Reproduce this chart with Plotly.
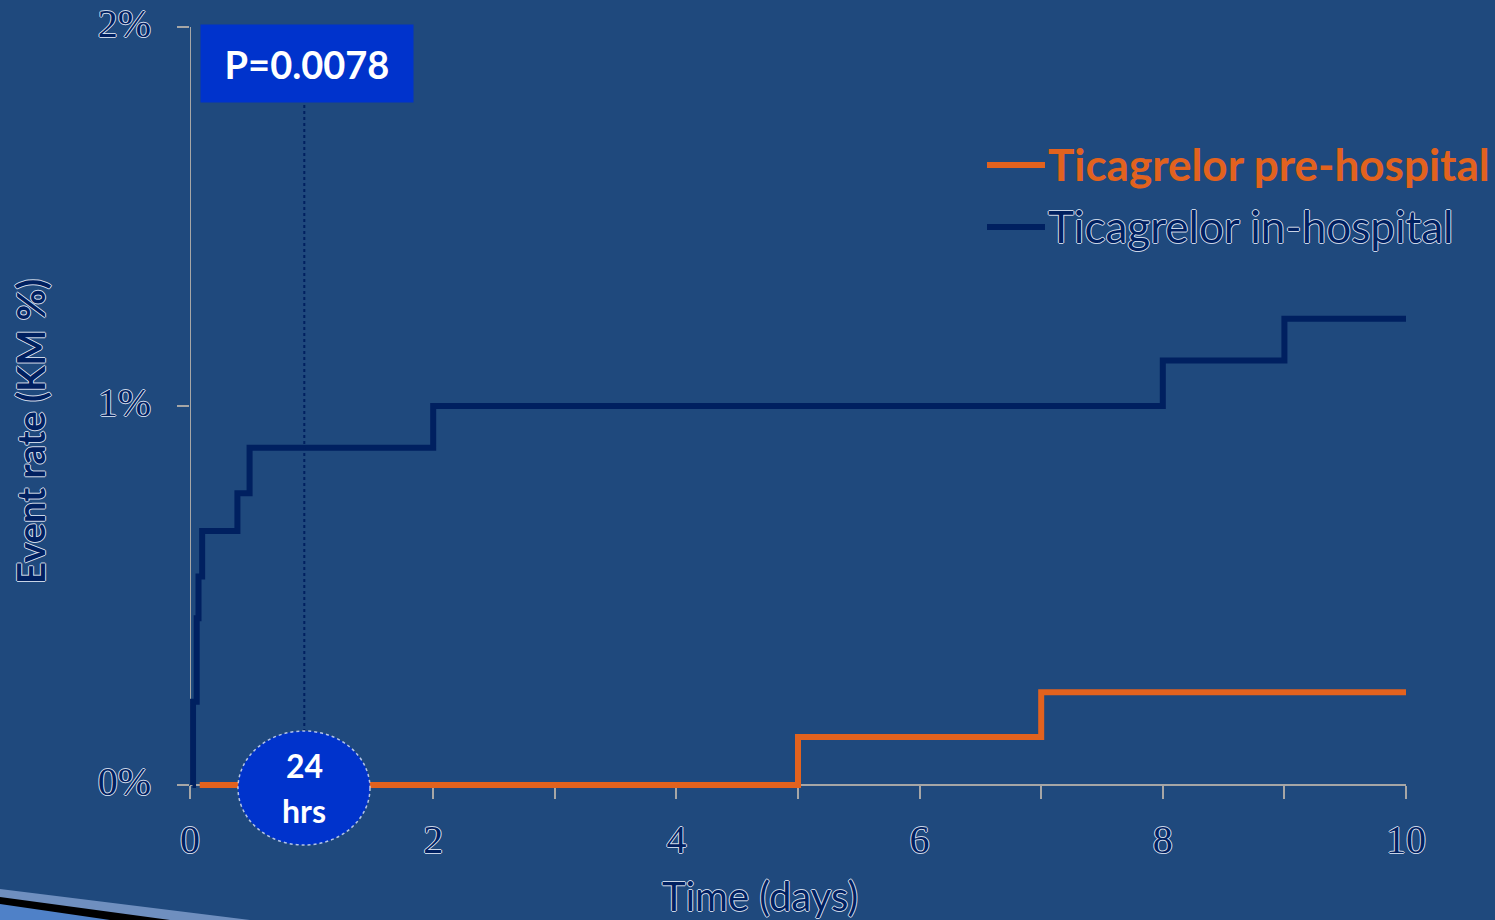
import plotly.graph_objects as go

# Kaplan-Meier event rates (%), step functions over days 0-10
days_in_hospital = [0.02, 0.025, 0.055, 0.07, 0.10, 0.39, 0.49, 2.0, 8.0, 9.0, 10.0]
rate_in_hospital = [0.0, 0.22, 0.44, 0.55, 0.67, 0.77, 0.89, 1.0, 1.12, 1.23, 1.23]

days_pre_hospital = [0.08, 5.0, 7.0, 10.0]
rate_pre_hospital = [0.0, 0.127, 0.245, 0.245]

x_tick_vals = list(range(0, 11))
x_tick_text = ["0", "", "2", "", "4", "", "6", "", "8", "", "10"]
y_tick_vals = [0, 1, 2]
y_tick_text = ["0%", "1%", "2%"]

legend_pre = "Ticagrelor pre-hospital"
legend_in = "Ticagrelor in-hospital"
p_value_text = "P=0.0078"
window_label = ["24", "hrs"]
window_day = 0.94

BG = "#1F497D"
NAVY = "#002060"
ORANGE = "#E2621E"
BRIGHT = "#0033CC"
AXIS = "#A6A6A6"
HALO = "rgba(225,232,245,0.9)"
OUTLINE = ("-1px 0 0 %s, 1px 0 0 %s, 0 -1px 0 %s, 0 1px 0 %s" % (HALO, HALO, HALO, HALO))

W, H = 1495, 920
L, R, T, B = 190, 89, 27, 116
plot_w, plot_h = W - L - R, H - T - B


def paper(px, py):
    return (px - L) / plot_w, (H - B - py) / plot_h


def outlined(size, family="Lato", weight="normal"):
    return dict(family=family, size=size, color=NAVY, shadow=OUTLINE, weight=weight)


fig = go.Figure()

fig.add_trace(go.Scatter(
    x=days_in_hospital, y=rate_in_hospital, mode="lines", name=legend_in,
    line=dict(color=NAVY, width=6, shape="hv"), showlegend=False,
))
fig.add_trace(go.Scatter(
    x=days_pre_hospital, y=rate_pre_hospital, mode="lines", name=legend_pre,
    line=dict(color=ORANGE, width=6, shape="hv"), showlegend=False,
))

shapes = []
annotations = []

# y axis line from 0% to 2%
shapes.append(dict(type="line", xref="x", yref="y", x0=0, x1=0, y0=0, y1=2,
                   line=dict(color=AXIS, width=2), layer="below"))

# dotted 24 h marker
shapes.append(dict(type="line", xref="x", yref="y", x0=window_day, x1=window_day,
                   y0=0.14, y1=1.80, line=dict(color=NAVY, width=2, dash="dot")))

# 24 hrs bubble (paper-referenced so it may overhang the plot area)
cx0, cy0 = paper(238, 845)
cx1, cy1 = paper(370, 731)
shapes.append(dict(type="circle", xref="paper", yref="paper", x0=cx0, x1=cx1, y0=cy0, y1=cy1,
                   fillcolor=BRIGHT, line=dict(color="rgba(220,230,250,0.8)", width=1.5, dash="dot"),
                   layer="above"))

lx, ly = paper(304, 765)
annotations.append(dict(xref="paper", yref="paper", x=lx, y=ly, xanchor="center", yanchor="middle",
                        text="<b>%s</b>" % window_label[0], showarrow=False,
                        font=dict(family="Lato", size=32, color="white")))
lx, ly = paper(304, 810)
annotations.append(dict(xref="paper", yref="paper", x=lx, y=ly, xanchor="center", yanchor="middle",
                        text="<b>%s</b>" % window_label[1], showarrow=False,
                        font=dict(family="Lato", size=32, color="white")))

# p-value box
bx, by = paper(307, 63)
annotations.append(dict(xref="paper", yref="paper", x=bx, y=by, xanchor="center", yanchor="middle",
                        text="<b>%s</b>" % p_value_text,
                        showarrow=False, width=212, height=77, bgcolor=BRIGHT, borderpad=0,
                        font=dict(family="Lato", size=38, color="white")))

# legend
for (py, color, label, style) in [(165, ORANGE, legend_pre, "orange"), (227, NAVY, legend_in, "navy")]:
    x0, y0 = paper(987, py)
    x1, _ = paper(1045, py)
    shapes.append(dict(type="line", xref="paper", yref="paper", x0=x0, x1=x1, y0=y0, y1=y0,
                       line=dict(color=color, width=6)))
    tx, ty = paper(1046, py - 1)
    if style == "orange":
        font = dict(family="Lato", size=44, color=ORANGE, weight="bold")
    else:
        font = outlined(44)
    annotations.append(dict(xref="paper", yref="paper", x=tx, y=ty, xanchor="left", yanchor="middle",
                            text=label, showarrow=False, font=font))

# axis titles
tx, ty = paper(760, 896)
annotations.append(dict(xref="paper", yref="paper", x=tx, y=ty, text="Time (days)", showarrow=False,
                        xanchor="center", yanchor="middle", font=outlined(40)))
tx, ty = paper(30, 432)
annotations.append(dict(xref="paper", yref="paper", x=tx, y=ty, text="Event rate (KM %)", showarrow=False,
                        textangle=-90, xanchor="center", yanchor="middle", font=outlined(38, weight="bold")))

# slide-template swoosh in the lower left corner
def poly(points):
    pts = [paper(px, py) for px, py in points]
    return "M " + " L ".join("%f,%f" % p for p in pts) + " Z"

shapes.append(dict(type="path", xref="paper", yref="paper", path=poly([(0, 889), (250, 920), (0, 920)]),
                   fillcolor="#6F8FBF", line=dict(width=0)))
shapes.append(dict(type="path", xref="paper", yref="paper", path=poly([(0, 897), (170, 920), (0, 920)]),
                   fillcolor="#000000", line=dict(width=0)))
shapes.append(dict(type="path", xref="paper", yref="paper", path=poly([(0, 904), (110, 920), (0, 920)]),
                   fillcolor="#4F81C8", line=dict(width=0)))

zero_pos = (H - B - 785) / plot_h

fig.update_layout(
    width=W, height=H,
    margin=dict(l=L, r=R, t=T, b=B, pad=0, autoexpand=False),
    paper_bgcolor=BG, plot_bgcolor=BG,
    showlegend=False,
    shapes=shapes, annotations=annotations,
    xaxis=dict(range=[0, 10], anchor="free", position=zero_pos, automargin=False,
               tickvals=x_tick_vals, ticktext=x_tick_text, layer="below traces",
               ticks="outside", ticklen=13, tickwidth=2, tickcolor=AXIS,
               showline=True, linecolor=AXIS, linewidth=2,
               showgrid=False, zeroline=False, ticklabelstandoff=6,
               tickfont=outlined(40, family="Liberation Serif")),
    yaxis=dict(range=[-0.05, 2.0], tickvals=y_tick_vals, ticktext=y_tick_text, automargin=False,
               ticks="outside", ticklen=12, tickwidth=2, tickcolor=AXIS, layer="below traces",
               showline=False, showgrid=False, zeroline=False, ticklabelstandoff=18,
               ticklabelshift=-4,
               tickfont=outlined(40, family="Liberation Serif")),
)

fig.write_html("out.html")
